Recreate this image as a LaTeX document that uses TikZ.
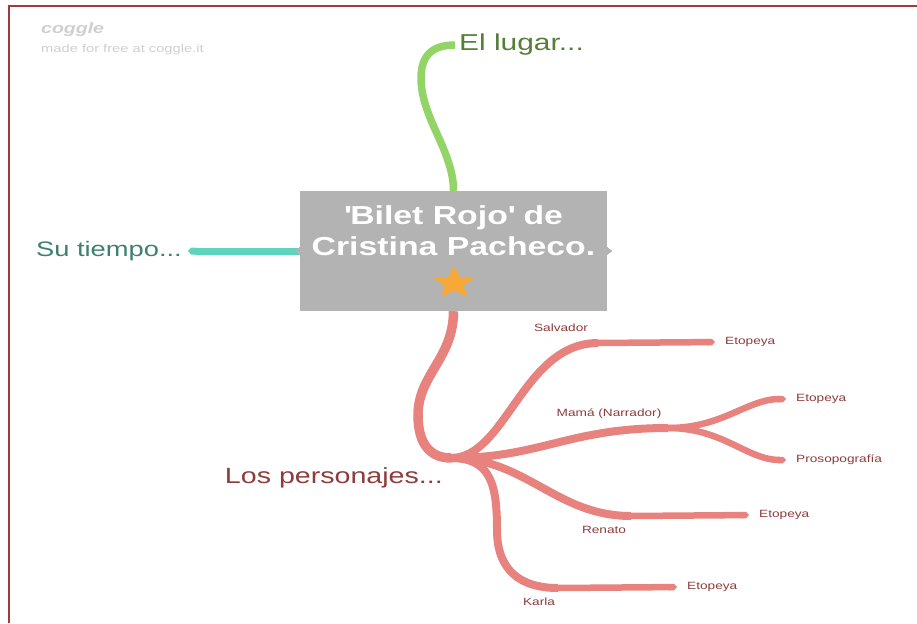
\documentclass[tikz,border=0pt]{standalone}
\usepackage{fontspec}
\setmainfont{Liberation Sans}[FakeStretch=1.3]
\usetikzlibrary{arrows.meta}

\definecolor{framered}{HTML}{9E3B3B}
\definecolor{boxgray}{HTML}{B3B3B3}
\definecolor{staryellow}{HTML}{F8A834}
\definecolor{lugargreen}{HTML}{93D466}
\definecolor{lugartext}{HTML}{557F38}
\definecolor{tiempoteal}{HTML}{5DD5BE}
\definecolor{tiempotext}{HTML}{3E7F70}
\definecolor{persred}{HTML}{E8827E}
\definecolor{perstext}{HTML}{8E3B3B}
\definecolor{markgray}{HTML}{CFCFCF}

\def\bigfont{\fontsize{22}{26}\selectfont}
\def\smallfont{\fontsize{10.5}{12}\selectfont}

\begin{document}
\begin{tikzpicture}[x=1pt,y=-1pt,
    rootbox/.style={fill=boxgray,draw=none,minimum width=307pt,minimum height=120pt,inner sep=0pt},
    roottext/.style={text=white,font=\fontsize{26}{31}\selectfont\bfseries,align=center,inner sep=0pt},
    maintext/.style={font=\bigfont,inner sep=4pt},
    leaftext/.style={font=\smallfont,text=perstext,inner sep=4pt},
    branch/.style={line width=8pt,line cap=butt},
    leaf/.style={line width=6.5pt,persred,-{Triangle Cap[length=3pt]},shorten >=6pt}]
        \useasboundingbox (0,0) rectangle (917,623);
        % frame
        \draw[framered,line width=2.5pt] (9,623) -- (9,6) -- (917,6);
        % watermark
        \node[anchor=west,text=markgray,font=\fontsize{15}{17}\selectfont\bfseries\itshape,inner sep=0pt] (logo) at (41,30) {coggle};
        \node[anchor=west,text=markgray,font=\fontsize{11.3}{13}\selectfont,inner sep=0pt] (madefor) at (41,50) {made for free at coggle.it};
        % central box
        \node[rootbox] (root) at (453.5,251) {};
        \node[roottext] (title) at (453.5,231) {\textquotesingle Bilet Rojo\textquotesingle\ de\\Cristina Pacheco.};
        \fill[staryellow,shift={(454,283)},xscale=1.3]
            (270:17) -- (306:7.5) -- (342:17) -- (18:7.5) -- (54:17) -- (90:7.5)
            -- (126:17) -- (162:7.5) -- (198:17) -- (234:7.5) -- cycle;
        % el lugar
        \node[maintext,text=lugartext,anchor=west] (lugar) at (455,45) {\fontsize{23}{27}\selectfont El lugar...};
        \coordinate (lugarbend) at (421,78);
        \draw[branch,lugargreen,line width=7.5pt] (root.north) .. controls +(0,-40) and +(0,40) .. (lugarbend)
            .. controls +(0,-25) and +(-20,0) .. (lugar.west);
        % su tiempo
        \node[maintext,text=tiempotext,anchor=east] (tiempo) at (186,251) {\fontsize{21}{25}\selectfont Su tiempo...};
        \draw[tiempoteal,line width=7pt,-{Triangle Cap[length=3pt]},shorten >=2pt] (root.west) -- (tiempo.east);
        % los personajes
        \node[maintext,text=perstext,anchor=east] (personajes) at (447,478) {Los personajes...};
        \coordinate (hub) at (451,458);
        \coordinate (persbend) at (418,415);
        \draw[branch,persred,line width=9.5pt] (root.south) .. controls +(0,47) and +(0,-40) .. (persbend)
            .. controls +(0,30) and +(-20,0) .. (hub);
        % salvador
        \node[leaftext] (salvadorlbl) at (561,328) {Salvador};
        \coordinate (salvador) at (598,343);
        \draw[branch,persred] (hub) .. controls +(55,0) and +(-75,0) .. (salvador);
        \node[leaftext,anchor=west] (etopeyaA) at (721,342) {Etopeya};
        \draw[leaf] (salvador) -- (etopeyaA.west);
        % mama
        \node[leaftext] (mamalbl) at (609,414) {Mamá (Narrador)};
        \coordinate (mama) at (668,428);
        \draw[branch,persred] (hub) .. controls +(90,0) and +(-100,0) .. (mama);
        \node[leaftext,anchor=west] (etopeyaB) at (792,399) {Etopeya};
        \node[leaftext,anchor=west] (proso) at (792,460) {Prosopografía};
        \draw[leaf] (mama) .. controls +(55,0) and +(-45,0) .. (etopeyaB.west);
        \draw[leaf] (mama) .. controls +(55,0) and +(-45,0) .. (proso.west);
        % renato
        \node[leaftext] (renatolbl) at (604,530) {Renato};
        \coordinate (renato) at (631,516);
        \draw[branch,persred] (hub) .. controls +(75,0) and +(-75,0) .. (renato);
        \node[leaftext,anchor=west] (etopeyaC) at (755,515) {Etopeya};
        \draw[leaf] (renato) -- (etopeyaC.west);
        % karla
        \node[leaftext] (karlalbl) at (539,602) {Karla};
        \coordinate (karlabend) at (497,530);
        \coordinate (karla) at (558,588);
        \draw[branch,persred] (hub) .. controls +(40,0) and +(0,-45) .. (karlabend)
            .. controls +(0,40) and +(-38,0) .. (karla);
        \node[leaftext,anchor=west] (etopeyaD) at (683,587) {Etopeya};
        \draw[leaf] (karla) -- (etopeyaD.west);
        % notches on the box
        \foreach \a/\p in {270/north,0/east,90/south,180/west}
            \fill[boxgray,shift={(root.\p)},rotate=\a] (0,-4) -- (5,0) -- (0,4) -- cycle;
    \end{tikzpicture}
\end{document}
